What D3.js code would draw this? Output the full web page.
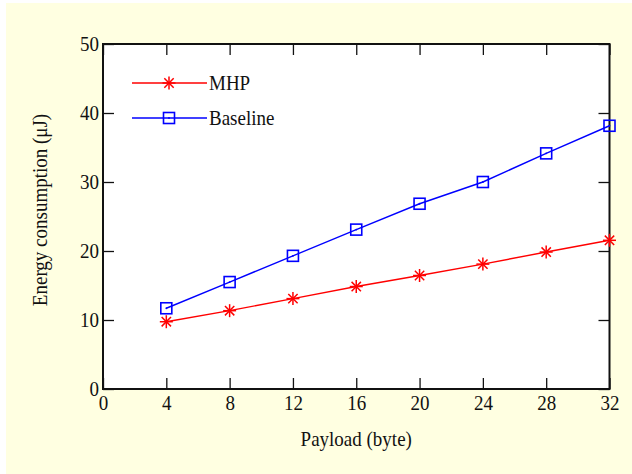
<!DOCTYPE html>
<html>
<head>
<meta charset="utf-8">
<script src="https://cdn.jsdelivr.net/npm/d3@7"></script>
<style>
  body { margin: 0; background: #fff; }
  text { font-family: "Liberation Serif", "Times New Roman", serif; fill: #111; }
</style>
</head>
<body>
<svg id="chart"></svg>
<script>
// Données
const payload = [4, 8, 12, 16, 20, 24, 28, 32];
const mhp = [9.75, 11.35, 13.1, 14.85, 16.45, 18.1, 19.85, 21.55];
const baseline = [11.7, 15.5, 19.3, 23.1, 26.85, 30.0, 34.15, 38.15];
const xTicks = [0, 4, 8, 12, 16, 20, 24, 28, 32];
const yTicks = [0, 10, 20, 30, 40, 50];

// Dimensions
const width = 632;
const height = 474;
const plot = { left: 103, right: 609.5, top: 44, bottom: 389 };
const stretch = 1.1; // le texte de la figure est un peu étiré verticalement

const svg = d3.select("#chart")
    .attr("width", width)
    .attr("height", height);

// Fond jaune
svg.append("rect")
    .attr("x", 6).attr("y", 3)
    .attr("width", width - 6).attr("height", height - 3)
    .attr("fill", "#FFFFE1");

// Zone de tracé
svg.append("rect")
    .attr("x", plot.left).attr("y", plot.top)
    .attr("width", plot.right - plot.left)
    .attr("height", plot.bottom - plot.top)
    .attr("fill", "#fff");

const x = d3.scaleLinear().domain([0, 32]).range([plot.left, plot.right]);
const y = d3.scaleLinear().domain([0, 50]).range([plot.bottom, plot.top]);

// Axes avec ticks vers l'intérieur
const tickLen = 11;
function styleAxis(g) {
    g.select(".domain").remove();
    g.selectAll(".tick line").attr("stroke", "#111").attr("stroke-width", 1.3);
    g.selectAll(".tick text")
        .attr("fill", "#111")
        .attr("transform", `scale(1,${stretch})`)
        .style("font-size", "19px")
        .style("font-family", "'Liberation Serif', 'Times New Roman', serif");
}

svg.append("g")
    .attr("transform", `translate(0,${plot.bottom})`)
    .call(d3.axisBottom(x).tickValues(xTicks).tickSizeInner(-tickLen).tickSizeOuter(0).tickPadding(6))
    .call(styleAxis);

svg.append("g")
    .attr("transform", `translate(0,${plot.top})`)
    .call(d3.axisTop(x).tickValues(xTicks).tickSizeInner(-tickLen).tickSizeOuter(0).tickFormat(""))
    .call(styleAxis);

svg.append("g")
    .attr("transform", `translate(${plot.left},0)`)
    .call(d3.axisLeft(y).tickValues(yTicks).tickSizeInner(-tickLen).tickSizeOuter(0).tickPadding(4))
    .call(g => {
        styleAxis(g);
        // le scale ne doit pas décaler la position verticale des labels
        g.selectAll(".tick text").attr("transform", null);
        g.selectAll(".tick").each(function() {
            d3.select(this).select("text")
                .attr("transform", `scale(1,${stretch})`);
        });
    });

svg.append("g")
    .attr("transform", `translate(${plot.right},0)`)
    .call(d3.axisRight(y).tickValues(yTicks).tickSizeInner(-tickLen).tickSizeOuter(0).tickFormat(""))
    .call(styleAxis);

// Cadre
svg.append("rect")
    .attr("x", plot.left).attr("y", plot.top)
    .attr("width", plot.right - plot.left)
    .attr("height", plot.bottom - plot.top)
    .attr("fill", "none")
    .attr("stroke", "#111")
    .attr("stroke-width", 2);

// Titres des axes
svg.append("text")
    .attr("transform", `translate(${(plot.left + plot.right) / 2},446) scale(1,${stretch})`)
    .attr("text-anchor", "middle")
    .style("font-size", "19px")
    .text("Payload (byte)");

svg.append("text")
    .attr("transform", "translate(47,210) rotate(-90) scale(1,1.05)")
    .attr("text-anchor", "middle")
    .style("font-size", "19px")
    .text("Energy consumption (μJ)");

// Marqueurs
function star(g, cx, cy, color) {
    const r = 6.5;
    const k = r * 0.72;
    const paths = [
        [[cx - r, cy], [cx + r, cy]],
        [[cx, cy - r], [cx, cy + r]],
        [[cx - k, cy - k], [cx + k, cy + k]],
        [[cx - k, cy + k], [cx + k, cy - k]]
    ];
    paths.forEach(p => {
        g.append("line")
            .attr("x1", p[0][0]).attr("y1", p[0][1])
            .attr("x2", p[1][0]).attr("y2", p[1][1])
            .attr("stroke", color).attr("stroke-width", 1.5);
    });
}

function square(g, cx, cy, color) {
    const s = 11;
    g.append("rect")
        .attr("x", cx - s / 2).attr("y", cy - s / 2)
        .attr("width", s).attr("height", s)
        .attr("fill", "none")
        .attr("stroke", color).attr("stroke-width", 1.6);
    g.append("circle")
        .attr("cx", cx).attr("cy", cy).attr("r", 0.9)
        .attr("fill", color);
}

const line = d3.line()
    .x(d => x(d[0]))
    .y(d => y(d[1]));

const series = [
    { name: "MHP", values: mhp, color: "#FF0000", marker: star },
    { name: "Baseline", values: baseline, color: "#0000FF", marker: square }
];

series.forEach(s => {
    const pts = payload.map((p, i) => [p, s.values[i]]);
    const g = svg.append("g");
    g.append("path")
        .datum(pts)
        .attr("d", line)
        .attr("fill", "none")
        .attr("stroke", s.color)
        .attr("stroke-width", 1.4);
    pts.forEach(d => s.marker(g, x(d[0]), y(d[1]), s.color));
});

// Légende
const legend = svg.append("g");
series.forEach((s, i) => {
    const ly = 83 + i * 35;
    legend.append("line")
        .attr("x1", 132).attr("x2", 207)
        .attr("y1", ly).attr("y2", ly)
        .attr("stroke", s.color).attr("stroke-width", 1.4);
    s.marker(legend, 169, ly, s.color);
    legend.append("text")
        .attr("transform", `translate(209,${ly}) scale(1,${stretch})`)
        .attr("dy", "0.35em")
        .style("font-size", "19px")
        .text(s.name);
});
</script>
</body>
</html>
